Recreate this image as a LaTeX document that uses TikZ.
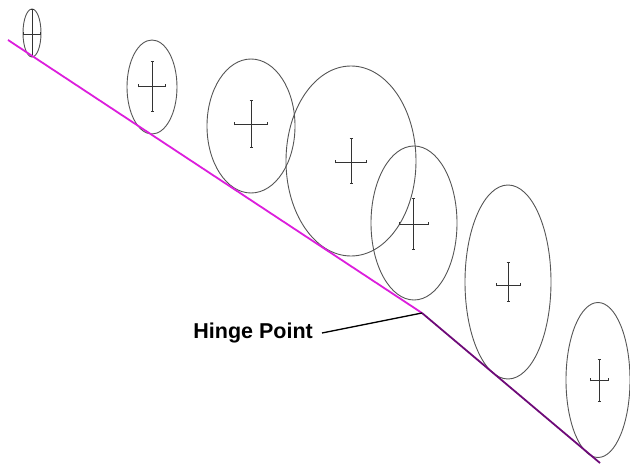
\documentclass[tikz,border=0pt]{standalone}
\usepackage{fontspec}
\setmainfont{Liberation Sans}
\usetikzlibrary{shapes.geometric,arrows.meta}
\definecolor{ringgray}{RGB}{85,85,85}
\definecolor{lmag}{RGB}{220,30,220}
\definecolor{lpur}{RGB}{110,10,120}
\tikzset{
  ring/.style args={#1/#2}{draw=ringgray, line width=0.9pt, ellipse, inner sep=0pt,
     minimum width=#1pt, minimum height=#2pt},
  crossarm/.style={draw=black!80, line width=0.8pt, {Bar[width=3pt,line width=0.8pt]}-{Bar[width=3pt,line width=0.8pt]}},
}
\begin{document}
\begin{tikzpicture}[x=1pt,y=-1pt]
\useasboundingbox (0,0) rectangle (630,465);
% ellipses
\node[ring=18/48] (e1) at (32,33) {};
\node[ring=50/94] (e2) at (152,87) {};
\node[ring=88/134] (e3) at (251,126) {};
\node[ring=130/190] (e4) at (351,161) {};
\node[ring=86/154] (e5) at (414,223) {};
\node[ring=86/194] (e6) at (508,282) {};
\node[ring=64/155] (e7) at (598,380) {};
% crosses
\draw[crossarm] (23,34) -- (41,34);
\draw[crossarm] (32,9) -- (32,57);
\draw[crossarm] (138,86) -- (166,86);
\draw[crossarm] (152,61) -- (152,112);
\draw[crossarm] (234,124) -- (268,124);
\draw[crossarm] (251,100) -- (251,148);
\draw[crossarm] (335,162) -- (367,162);
\draw[crossarm] (351,138) -- (351,184);
\draw[crossarm] (399,224) -- (429,224);
\draw[crossarm] (413,198) -- (413,250);
\draw[crossarm] (496,285) -- (521,285);
\draw[crossarm] (508,262) -- (508,302);
\draw[crossarm] (590,380) -- (609,380);
\draw[crossarm] (599,359) -- (599,402);
% line
\coordinate (start) at (8,40);
\coordinate (hinge) at (422,313);
\coordinate (end) at (600,463);
\draw[lmag, line width=1.8pt] (start) -- (hinge);
\draw[lpur, line width=1.8pt] (hinge) -- (end);
% label
\node[anchor=east, font=\fontsize{21.5}{25}\selectfont\bfseries, inner sep=0pt] (lbl) at (313,333) {Hinge Point};
\draw[black, line width=1.3pt] ([xshift=9pt]lbl.east) -- (hinge);
\end{tikzpicture}
\end{document}
